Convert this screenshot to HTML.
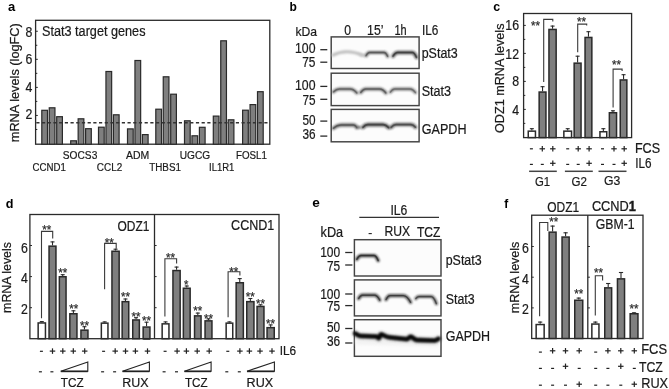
<!DOCTYPE html>
<html><head><meta charset="utf-8"><style>
html,body{margin:0;padding:0;background:#fff;width:669px;height:389px;overflow:hidden;position:relative;font-family:"Liberation Sans", sans-serif;}
</style></head><body>
<svg width="669" height="389" viewBox="0 0 669 389" style="position:absolute;left:0;top:0;will-change:transform">
<g font-family='"Liberation Sans", sans-serif'>
<defs><filter id="bl" filterUnits="userSpaceOnUse" x="0" y="0" width="669" height="389"><feGaussianBlur stdDeviation="1.5"/></filter><filter id="bl2" filterUnits="userSpaceOnUse" x="0" y="0" width="669" height="389"><feGaussianBlur stdDeviation="1.0"/></filter></defs>
<text transform="translate(8,10.8) scale(1.0,1)" x="0" y="0" font-size="13" text-anchor="start" font-weight="bold" fill="#000" stroke="#000" stroke-width="0">a</text>
<rect x="35.6" y="20.3" width="234.20000000000002" height="123.89999999999999" fill="none" stroke="#2a2a2a" stroke-width="1.3"/>
<line x1="35.6" y1="129.47" x2="37.3" y2="129.47" stroke="#2a2a2a" stroke-width="1"/>
<line x1="35.6" y1="115.44" x2="37.8" y2="115.44" stroke="#2a2a2a" stroke-width="1"/>
<line x1="35.6" y1="101.41" x2="37.3" y2="101.41" stroke="#2a2a2a" stroke-width="1"/>
<line x1="35.6" y1="87.38" x2="37.8" y2="87.38" stroke="#2a2a2a" stroke-width="1"/>
<line x1="35.6" y1="73.35000000000001" x2="37.3" y2="73.35000000000001" stroke="#2a2a2a" stroke-width="1"/>
<line x1="35.6" y1="59.32000000000001" x2="37.8" y2="59.32000000000001" stroke="#2a2a2a" stroke-width="1"/>
<line x1="35.6" y1="45.290000000000006" x2="37.3" y2="45.290000000000006" stroke="#2a2a2a" stroke-width="1"/>
<line x1="35.6" y1="31.260000000000005" x2="37.8" y2="31.260000000000005" stroke="#2a2a2a" stroke-width="1"/>
<text transform="translate(32.3,36.7) scale(0.88,1)" x="0" y="0" font-size="13.98" text-anchor="end" font-weight="normal" fill="#1a1a1a" stroke="#1a1a1a" stroke-width="0.22">8</text>
<text transform="translate(32.3,64.2) scale(0.88,1)" x="0" y="0" font-size="13.98" text-anchor="end" font-weight="normal" fill="#1a1a1a" stroke="#1a1a1a" stroke-width="0.22">6</text>
<text transform="translate(32.3,91.7) scale(0.88,1)" x="0" y="0" font-size="13.98" text-anchor="end" font-weight="normal" fill="#1a1a1a" stroke="#1a1a1a" stroke-width="0.22">4</text>
<text transform="translate(32.3,119.3) scale(0.88,1)" x="0" y="0" font-size="13.98" text-anchor="end" font-weight="normal" fill="#1a1a1a" stroke="#1a1a1a" stroke-width="0.22">2</text>
<text transform="translate(19.0,142.2) rotate(-90) scale(1,1.0)" x="0" y="0" font-size="11.9" fill="#1a1a1a" stroke="#1a1a1a" stroke-width="0.22" textLength="119" lengthAdjust="spacingAndGlyphs">mRNA levels (logFC)</text>
<text transform="translate(42,35.8) scale(0.88,1)" x="0" y="0" font-size="14.43" text-anchor="start" font-weight="normal" fill="#1a1a1a" stroke="#1a1a1a" stroke-width="0.22" textLength="117.61" lengthAdjust="spacingAndGlyphs">Stat3 target genes</text>
<rect x="41.800000000000004" y="110.3" width="5.699999999999996" height="33.89999999999999" fill="#7f7f7f" stroke="#2a2a2a" stroke-width="1.2"/>
<rect x="49.25000000000001" y="107.8" width="5.699999999999996" height="36.39999999999999" fill="#7f7f7f" stroke="#2a2a2a" stroke-width="1.2"/>
<rect x="56.7" y="116.69999999999999" width="5.699999999999996" height="27.5" fill="#7f7f7f" stroke="#2a2a2a" stroke-width="1.2"/>
<rect x="70.69999999999999" y="140.79999999999998" width="5.700000000000017" height="3.4000000000000057" fill="#7f7f7f" stroke="#2a2a2a" stroke-width="1.2"/>
<rect x="78.14999999999999" y="118.8" width="5.700000000000017" height="25.39999999999999" fill="#7f7f7f" stroke="#2a2a2a" stroke-width="1.2"/>
<rect x="85.6" y="128.7" width="5.700000000000017" height="15.5" fill="#7f7f7f" stroke="#2a2a2a" stroke-width="1.2"/>
<rect x="98.5" y="127.19999999999999" width="5.700000000000017" height="17.0" fill="#7f7f7f" stroke="#2a2a2a" stroke-width="1.2"/>
<rect x="105.95" y="71.5" width="5.700000000000017" height="72.69999999999999" fill="#7f7f7f" stroke="#2a2a2a" stroke-width="1.2"/>
<rect x="113.4" y="114.8" width="5.700000000000017" height="29.39999999999999" fill="#7f7f7f" stroke="#2a2a2a" stroke-width="1.2"/>
<rect x="127.5" y="128.9" width="5.700000000000017" height="15.299999999999983" fill="#7f7f7f" stroke="#2a2a2a" stroke-width="1.2"/>
<rect x="134.95" y="60.5" width="5.700000000000017" height="83.69999999999999" fill="#7f7f7f" stroke="#2a2a2a" stroke-width="1.2"/>
<rect x="142.4" y="134.6" width="5.700000000000017" height="9.599999999999994" fill="#7f7f7f" stroke="#2a2a2a" stroke-width="1.2"/>
<rect x="155.79999999999998" y="109.19999999999999" width="5.700000000000017" height="35.0" fill="#7f7f7f" stroke="#2a2a2a" stroke-width="1.2"/>
<rect x="163.24999999999997" y="76.8" width="5.700000000000017" height="67.39999999999999" fill="#7f7f7f" stroke="#2a2a2a" stroke-width="1.2"/>
<rect x="170.7" y="94.19999999999999" width="5.700000000000017" height="50.0" fill="#7f7f7f" stroke="#2a2a2a" stroke-width="1.2"/>
<rect x="184.5" y="120.8" width="5.700000000000017" height="23.39999999999999" fill="#7f7f7f" stroke="#2a2a2a" stroke-width="1.2"/>
<rect x="191.95" y="135.79999999999998" width="5.700000000000017" height="8.400000000000006" fill="#7f7f7f" stroke="#2a2a2a" stroke-width="1.2"/>
<rect x="199.4" y="127.3" width="5.700000000000017" height="16.89999999999999" fill="#7f7f7f" stroke="#2a2a2a" stroke-width="1.2"/>
<rect x="213.29999999999998" y="116.1" width="5.700000000000017" height="28.099999999999994" fill="#7f7f7f" stroke="#2a2a2a" stroke-width="1.2"/>
<rect x="220.74999999999997" y="40.800000000000004" width="5.700000000000017" height="103.39999999999998" fill="#7f7f7f" stroke="#2a2a2a" stroke-width="1.2"/>
<rect x="228.2" y="119.8" width="5.700000000000017" height="24.39999999999999" fill="#7f7f7f" stroke="#2a2a2a" stroke-width="1.2"/>
<rect x="242.6" y="110.19999999999999" width="5.700000000000017" height="34.0" fill="#7f7f7f" stroke="#2a2a2a" stroke-width="1.2"/>
<rect x="250.04999999999998" y="104.6" width="5.699999999999989" height="39.599999999999994" fill="#7f7f7f" stroke="#2a2a2a" stroke-width="1.2"/>
<rect x="257.5" y="91.69999999999999" width="5.699999999999932" height="52.5" fill="#7f7f7f" stroke="#2a2a2a" stroke-width="1.2"/>
<line x1="36.3" y1="122.8" x2="269.2" y2="122.8" stroke="#333" stroke-width="1.4" stroke-dasharray="3.2 2.5"/>
<text transform="translate(32.6,171) scale(0.88,1)" x="0" y="0" font-size="11.7" text-anchor="start" font-weight="normal" fill="#1a1a1a" stroke="#1a1a1a" stroke-width="0.22" textLength="37.95" lengthAdjust="spacingAndGlyphs">CCND1</text>
<text transform="translate(62.8,158.7) scale(0.88,1)" x="0" y="0" font-size="11.7" text-anchor="start" font-weight="normal" fill="#1a1a1a" stroke="#1a1a1a" stroke-width="0.22" textLength="39.2" lengthAdjust="spacingAndGlyphs">SOCS3</text>
<text transform="translate(96.8,171) scale(0.88,1)" x="0" y="0" font-size="11.7" text-anchor="start" font-weight="normal" fill="#1a1a1a" stroke="#1a1a1a" stroke-width="0.22" textLength="28.86" lengthAdjust="spacingAndGlyphs">CCL2</text>
<text transform="translate(126,158.7) scale(0.88,1)" x="0" y="0" font-size="11.7" text-anchor="start" font-weight="normal" fill="#1a1a1a" stroke="#1a1a1a" stroke-width="0.22" textLength="26.36" lengthAdjust="spacingAndGlyphs">ADM</text>
<text transform="translate(149.2,171) scale(0.88,1)" x="0" y="0" font-size="11.7" text-anchor="start" font-weight="normal" fill="#1a1a1a" stroke="#1a1a1a" stroke-width="0.22" textLength="36.14" lengthAdjust="spacingAndGlyphs">THBS1</text>
<text transform="translate(179.8,158.7) scale(0.88,1)" x="0" y="0" font-size="11.7" text-anchor="start" font-weight="normal" fill="#1a1a1a" stroke="#1a1a1a" stroke-width="0.22" textLength="34.55" lengthAdjust="spacingAndGlyphs">UGCG</text>
<text transform="translate(209,171) scale(0.88,1)" x="0" y="0" font-size="11.7" text-anchor="start" font-weight="normal" fill="#1a1a1a" stroke="#1a1a1a" stroke-width="0.22" textLength="28.86" lengthAdjust="spacingAndGlyphs">IL1R1</text>
<text transform="translate(236,158.7) scale(0.88,1)" x="0" y="0" font-size="11.7" text-anchor="start" font-weight="normal" fill="#1a1a1a" stroke="#1a1a1a" stroke-width="0.22" textLength="35.23" lengthAdjust="spacingAndGlyphs">FOSL1</text>
<text transform="translate(289.6,10.6) scale(1.0,1)" x="0" y="0" font-size="12" text-anchor="start" font-weight="bold" fill="#000" stroke="#000" stroke-width="0">b</text>
<text transform="translate(295.4,36) scale(0.88,1)" x="0" y="0" font-size="13.64" text-anchor="start" font-weight="normal" fill="#1a1a1a" stroke="#1a1a1a" stroke-width="0.22" textLength="24.55" lengthAdjust="spacingAndGlyphs">kDa</text>
<text transform="translate(344.2,34.7) scale(0.88,1)" x="0" y="0" font-size="13.86" text-anchor="start" font-weight="normal" fill="#1a1a1a" stroke="#1a1a1a" stroke-width="0.22">0</text>
<text transform="translate(367.1,34.7) scale(0.88,1)" x="0" y="0" font-size="13.86" text-anchor="start" font-weight="normal" fill="#1a1a1a" stroke="#1a1a1a" stroke-width="0.22" textLength="18.64" lengthAdjust="spacingAndGlyphs">15’</text>
<text transform="translate(394.4,34.7) scale(0.88,1)" x="0" y="0" font-size="13.86" text-anchor="start" font-weight="normal" fill="#1a1a1a" stroke="#1a1a1a" stroke-width="0.22" textLength="13.86" lengthAdjust="spacingAndGlyphs">1h</text>
<text transform="translate(422,34.7) scale(0.88,1)" x="0" y="0" font-size="13.86" text-anchor="start" font-weight="normal" fill="#1a1a1a" stroke="#1a1a1a" stroke-width="0.22" textLength="18.64" lengthAdjust="spacingAndGlyphs">IL6</text>
<rect x="331.2" y="36.9" width="87.90000000000003" height="31.6" fill="#fcfcfc" stroke="#444" stroke-width="1.45"/>
<rect x="331.2" y="73.2" width="87.90000000000003" height="32.39999999999999" fill="#fcfcfc" stroke="#444" stroke-width="1.45"/>
<rect x="331.2" y="109.4" width="87.90000000000003" height="32.400000000000006" fill="#fcfcfc" stroke="#444" stroke-width="1.45"/>
<text transform="translate(295,53) scale(0.88,1)" x="0" y="0" font-size="13.86" text-anchor="start" font-weight="normal" fill="#1a1a1a" stroke="#1a1a1a" stroke-width="0.22" textLength="23.3" lengthAdjust="spacingAndGlyphs">100</text>
<line x1="320.3" y1="49.7" x2="327.3" y2="49.7" stroke="#2a2a2a" stroke-width="1.3"/>
<text transform="translate(302.2,67.4) scale(0.88,1)" x="0" y="0" font-size="13.86" text-anchor="start" font-weight="normal" fill="#1a1a1a" stroke="#1a1a1a" stroke-width="0.22" textLength="15.11" lengthAdjust="spacingAndGlyphs">75</text>
<line x1="320.3" y1="62.2" x2="327.3" y2="62.2" stroke="#2a2a2a" stroke-width="1.3"/>
<text transform="translate(295,90.2) scale(0.88,1)" x="0" y="0" font-size="13.86" text-anchor="start" font-weight="normal" fill="#1a1a1a" stroke="#1a1a1a" stroke-width="0.22" textLength="23.3" lengthAdjust="spacingAndGlyphs">100</text>
<line x1="320.3" y1="86.4" x2="327.3" y2="86.4" stroke="#2a2a2a" stroke-width="1.3"/>
<text transform="translate(302.4,104.7) scale(0.88,1)" x="0" y="0" font-size="13.86" text-anchor="start" font-weight="normal" fill="#1a1a1a" stroke="#1a1a1a" stroke-width="0.22" textLength="14.89" lengthAdjust="spacingAndGlyphs">75</text>
<line x1="320.3" y1="99.3" x2="327.3" y2="99.3" stroke="#2a2a2a" stroke-width="1.3"/>
<text transform="translate(302.4,125) scale(0.88,1)" x="0" y="0" font-size="13.86" text-anchor="start" font-weight="normal" fill="#1a1a1a" stroke="#1a1a1a" stroke-width="0.22" textLength="14.89" lengthAdjust="spacingAndGlyphs">50</text>
<line x1="320.3" y1="121.1" x2="327.3" y2="121.1" stroke="#2a2a2a" stroke-width="1.3"/>
<text transform="translate(302.4,138.8) scale(0.88,1)" x="0" y="0" font-size="13.86" text-anchor="start" font-weight="normal" fill="#1a1a1a" stroke="#1a1a1a" stroke-width="0.22" textLength="14.89" lengthAdjust="spacingAndGlyphs">36</text>
<line x1="320.3" y1="136.1" x2="327.3" y2="136.1" stroke="#2a2a2a" stroke-width="1.3"/>
<text transform="translate(421.7,58.1) scale(0.88,1)" x="0" y="0" font-size="14.09" text-anchor="start" font-weight="normal" fill="#1a1a1a" stroke="#1a1a1a" stroke-width="0.22" textLength="40.91" lengthAdjust="spacingAndGlyphs">pStat3</text>
<text transform="translate(421.7,95.8) scale(0.88,1)" x="0" y="0" font-size="14.09" text-anchor="start" font-weight="normal" fill="#1a1a1a" stroke="#1a1a1a" stroke-width="0.22" textLength="33.3" lengthAdjust="spacingAndGlyphs">Stat3</text>
<text transform="translate(421.7,133.9) scale(0.88,1)" x="0" y="0" font-size="14.09" text-anchor="start" font-weight="normal" fill="#1a1a1a" stroke="#1a1a1a" stroke-width="0.22" textLength="50.91" lengthAdjust="spacingAndGlyphs">GAPDH</text>
<path d="M333,55.1 Q346,48.3 363,55.3" stroke="#bdbdbd" stroke-width="3.0" fill="none" filter="url(#bl2)" stroke-linecap="round"/>
<path d="M360,55 L362.8,55.2" stroke="#c8c8c8" stroke-width="2" fill="none" filter="url(#bl2)" stroke-linecap="round"/>
<path d="M366,55.8 C367.05,53.82 367.925,52.5 369.5,52.5 L384.2,52.5 C385.775,52.5 386.65,54.06 387.7,56.4" stroke="#303030" stroke-width="2.9700000000000006" fill="none" filter="url(#bl2)" stroke-linecap="round" opacity="0.72"/>
<path d="M366,55.8 C367.05,53.82 367.925,52.5 369.5,52.5 L384.2,52.5 C385.775,52.5 386.65,54.06 387.7,56.4" stroke="#303030" stroke-width="1.35" fill="none" stroke-linecap="round" opacity="0.45"/>
<path d="M393,56.2 C394.38,53.980000000000004 395.53000000000003,52.5 397.6,52.5 L412.3,52.5 C414.19,52.5 415.24,54.46 416.5,57.4" stroke="#151515" stroke-width="3.4100000000000006" fill="none" filter="url(#bl2)" stroke-linecap="round" opacity="0.72"/>
<path d="M393,56.2 C394.38,53.980000000000004 395.53000000000003,52.5 397.6,52.5 L412.3,52.5 C414.19,52.5 415.24,54.46 416.5,57.4" stroke="#151515" stroke-width="1.55" fill="none" stroke-linecap="round" opacity="0.45"/>
<path d="M333.4,91.9 C335.2,90.16 336.7,89 339.4,89 L350.2,89 C353.215,89 354.89,90.6 356.9,93" stroke="#3a3a3a" stroke-width="2.9700000000000006" fill="none" filter="url(#bl2)" stroke-linecap="round" opacity="0.72"/>
<path d="M333.4,91.9 C335.2,90.16 336.7,89 339.4,89 L350.2,89 C353.215,89 354.89,90.6 356.9,93" stroke="#3a3a3a" stroke-width="1.35" fill="none" stroke-linecap="round" opacity="0.45"/>
<path d="M360.7,92.5 C362.2,90.4 363.45,89 365.7,89 L379.8,89 C382.545,89 384.07,90.6 385.9,93" stroke="#333" stroke-width="3.08" fill="none" filter="url(#bl2)" stroke-linecap="round" opacity="0.72"/>
<path d="M360.7,92.5 C362.2,90.4 363.45,89 365.7,89 L379.8,89 C382.545,89 384.07,90.6 385.9,93" stroke="#333" stroke-width="1.4" fill="none" stroke-linecap="round" opacity="0.45"/>
<path d="M390.3,92.2 C391.59000000000003,90.28 392.665,89 394.6,89 L410.1,89 C412.53000000000003,89 413.88,90.48 415.5,92.7" stroke="#454545" stroke-width="2.8600000000000003" fill="none" filter="url(#bl2)" stroke-linecap="round" opacity="0.72"/>
<path d="M390.3,92.2 C391.59000000000003,90.28 392.665,89 394.6,89 L410.1,89 C412.53000000000003,89 413.88,90.48 415.5,92.7" stroke="#454545" stroke-width="1.3" fill="none" stroke-linecap="round" opacity="0.45"/>
<path d="M333.4,128.2 C335.62,126.28 337.46999999999997,125 340.8,125 L353.6,125 C355.085,125 355.90999999999997,126.03999999999999 356.9,127.6" stroke="#2e2e2e" stroke-width="3.3000000000000003" fill="none" filter="url(#bl2)" stroke-linecap="round" opacity="0.72"/>
<path d="M333.4,128.2 C335.62,126.28 337.46999999999997,125 340.8,125 L353.6,125 C355.085,125 355.90999999999997,126.03999999999999 356.9,127.6" stroke="#2e2e2e" stroke-width="1.5" fill="none" stroke-linecap="round" opacity="0.45"/>
<path d="M357.8,127.2 L360,127.4" stroke="#666" stroke-width="2.4" fill="none" filter="url(#bl2)" stroke-linecap="round"/>
<path d="M363,127.3 C364.40999999999997,125.67999999999999 365.585,124.6 367.7,124.6 L383.2,124.6 C385.585,124.6 386.90999999999997,125.75999999999999 388.5,127.5" stroke="#1a1a1a" stroke-width="3.74" fill="none" filter="url(#bl2)" stroke-linecap="round" opacity="0.72"/>
<path d="M363,127.3 C364.40999999999997,125.67999999999999 365.585,124.6 367.7,124.6 L383.2,124.6 C385.585,124.6 386.90999999999997,125.75999999999999 388.5,127.5" stroke="#1a1a1a" stroke-width="1.7" fill="none" stroke-linecap="round" opacity="0.45"/>
<path d="M391.2,127.3 C392.64,125.67999999999999 393.84,124.6 396,124.6 L410.8,124.6 C412.915,124.6 414.09000000000003,125.64 415.5,127.2" stroke="#262626" stroke-width="3.5200000000000005" fill="none" filter="url(#bl2)" stroke-linecap="round" opacity="0.72"/>
<path d="M391.2,127.3 C392.64,125.67999999999999 393.84,124.6 396,124.6 L410.8,124.6 C412.915,124.6 414.09000000000003,125.64 415.5,127.2" stroke="#262626" stroke-width="1.6" fill="none" stroke-linecap="round" opacity="0.45"/>
<text transform="translate(493.2,10.6) scale(1.0,1)" x="0" y="0" font-size="12.4" text-anchor="start" font-weight="bold" fill="#000" stroke="#000" stroke-width="0">c</text>
<rect x="523.6" y="13.5" width="108.0" height="124.1" fill="none" stroke="#2a2a2a" stroke-width="1.3"/>
<line x1="523.6" y1="123.4" x2="525.3" y2="123.4" stroke="#2a2a2a" stroke-width="1"/>
<line x1="523.6" y1="109.4" x2="525.8" y2="109.4" stroke="#2a2a2a" stroke-width="1"/>
<line x1="523.6" y1="95.4" x2="525.3" y2="95.4" stroke="#2a2a2a" stroke-width="1"/>
<line x1="523.6" y1="81.4" x2="525.8" y2="81.4" stroke="#2a2a2a" stroke-width="1"/>
<line x1="523.6" y1="67.4" x2="525.3" y2="67.4" stroke="#2a2a2a" stroke-width="1"/>
<line x1="523.6" y1="53.400000000000006" x2="525.8" y2="53.400000000000006" stroke="#2a2a2a" stroke-width="1"/>
<line x1="523.6" y1="39.400000000000006" x2="525.3" y2="39.400000000000006" stroke="#2a2a2a" stroke-width="1"/>
<line x1="523.6" y1="25.400000000000006" x2="525.8" y2="25.400000000000006" stroke="#2a2a2a" stroke-width="1"/>
<text transform="translate(519,29.8) scale(0.88,1)" x="0" y="0" font-size="13.98" text-anchor="end" font-weight="normal" fill="#1a1a1a" stroke="#1a1a1a" stroke-width="0.22">16</text>
<text transform="translate(519,58.6) scale(0.88,1)" x="0" y="0" font-size="13.98" text-anchor="end" font-weight="normal" fill="#1a1a1a" stroke="#1a1a1a" stroke-width="0.22">12</text>
<text transform="translate(519,86.2) scale(0.88,1)" x="0" y="0" font-size="13.98" text-anchor="end" font-weight="normal" fill="#1a1a1a" stroke="#1a1a1a" stroke-width="0.22">8</text>
<text transform="translate(519,115) scale(0.88,1)" x="0" y="0" font-size="13.98" text-anchor="end" font-weight="normal" fill="#1a1a1a" stroke="#1a1a1a" stroke-width="0.22">4</text>
<text transform="translate(504.4,133) rotate(-90) scale(1,1.0)" x="0" y="0" font-size="12.3" fill="#1a1a1a" stroke="#1a1a1a" stroke-width="0.22" textLength="109.5" lengthAdjust="spacingAndGlyphs">ODZ1 mRNA levels</text>
<line x1="531.85" y1="130.4" x2="531.85" y2="128.2" stroke="#2a2a2a" stroke-width="1.1"/>
<line x1="529.85" y1="128.7" x2="533.85" y2="128.7" stroke="#2a2a2a" stroke-width="1.1"/>
<rect x="528.25" y="131.15" width="7.2000000000000455" height="6.449999999999989" fill="#fff" stroke="#2a2a2a" stroke-width="1.5"/>
<line x1="542.55" y1="91.3" x2="542.55" y2="86.2" stroke="#2a2a2a" stroke-width="1.1"/>
<line x1="540.55" y1="86.7" x2="544.55" y2="86.7" stroke="#2a2a2a" stroke-width="1.1"/>
<rect x="539.15" y="92.05" width="6.800000000000068" height="45.55" fill="#7f7f7f" stroke="#2a2a2a" stroke-width="1.5"/>
<line x1="552.55" y1="28.7" x2="552.55" y2="25.6" stroke="#2a2a2a" stroke-width="1.1"/>
<line x1="550.55" y1="26.1" x2="554.55" y2="26.1" stroke="#2a2a2a" stroke-width="1.1"/>
<rect x="548.95" y="29.45" width="7.199999999999932" height="108.14999999999999" fill="#7f7f7f" stroke="#2a2a2a" stroke-width="1.5"/>
<line x1="567.7" y1="130.4" x2="567.7" y2="128.2" stroke="#2a2a2a" stroke-width="1.1"/>
<line x1="565.7" y1="128.7" x2="569.7" y2="128.7" stroke="#2a2a2a" stroke-width="1.1"/>
<rect x="563.85" y="131.15" width="7.699999999999932" height="6.449999999999989" fill="#fff" stroke="#2a2a2a" stroke-width="1.5"/>
<line x1="577.5999999999999" y1="62.4" x2="577.5999999999999" y2="55.7" stroke="#2a2a2a" stroke-width="1.1"/>
<line x1="575.5999999999999" y1="56.2" x2="579.5999999999999" y2="56.2" stroke="#2a2a2a" stroke-width="1.1"/>
<rect x="574.15" y="63.15" width="6.899999999999977" height="74.44999999999999" fill="#7f7f7f" stroke="#2a2a2a" stroke-width="1.5"/>
<line x1="588.45" y1="36.7" x2="588.45" y2="31.2" stroke="#2a2a2a" stroke-width="1.1"/>
<line x1="586.45" y1="31.7" x2="590.45" y2="31.7" stroke="#2a2a2a" stroke-width="1.1"/>
<rect x="585.05" y="37.45" width="6.800000000000068" height="100.14999999999999" fill="#7f7f7f" stroke="#2a2a2a" stroke-width="1.5"/>
<line x1="603.35" y1="131" x2="603.35" y2="128.2" stroke="#2a2a2a" stroke-width="1.1"/>
<line x1="601.35" y1="128.7" x2="605.35" y2="128.7" stroke="#2a2a2a" stroke-width="1.1"/>
<rect x="599.95" y="131.75" width="6.7999999999999545" height="5.849999999999994" fill="#fff" stroke="#2a2a2a" stroke-width="1.5"/>
<line x1="612.95" y1="112" x2="612.95" y2="110.3" stroke="#2a2a2a" stroke-width="1.1"/>
<line x1="610.95" y1="110.8" x2="614.95" y2="110.8" stroke="#2a2a2a" stroke-width="1.1"/>
<rect x="609.35" y="112.75" width="7.199999999999932" height="24.849999999999994" fill="#7f7f7f" stroke="#2a2a2a" stroke-width="1.5"/>
<line x1="623.55" y1="79.2" x2="623.55" y2="74.2" stroke="#2a2a2a" stroke-width="1.1"/>
<line x1="621.55" y1="74.7" x2="625.55" y2="74.7" stroke="#2a2a2a" stroke-width="1.1"/>
<rect x="620.25" y="79.95" width="6.600000000000023" height="57.64999999999999" fill="#7f7f7f" stroke="#2a2a2a" stroke-width="1.5"/>
<path d="M543.7,81.9 V19.4 H552.8 V21.5" stroke="#3a3a3a" stroke-width="1.1" fill="none"/>
<path d="M577.7,52.2 V24.1 H586.7 V25.6" stroke="#3a3a3a" stroke-width="1.1" fill="none"/>
<path d="M613.1,107.6 V69.1 H622.1 V71" stroke="#3a3a3a" stroke-width="1.1" fill="none"/>
<text transform="translate(535.5,30.1) scale(0.88,1)" x="0" y="0" font-size="13.07" text-anchor="middle" font-weight="normal" fill="#2a2a2a" stroke="#2a2a2a" stroke-width="0.22" textLength="10.23" lengthAdjust="spacingAndGlyphs">**</text>
<text transform="translate(581.4,26.3) scale(0.88,1)" x="0" y="0" font-size="13.07" text-anchor="middle" font-weight="normal" fill="#2a2a2a" stroke="#2a2a2a" stroke-width="0.22" textLength="10.23" lengthAdjust="spacingAndGlyphs">**</text>
<text transform="translate(616.6,68.9) scale(0.88,1)" x="0" y="0" font-size="13.07" text-anchor="middle" font-weight="normal" fill="#2a2a2a" stroke="#2a2a2a" stroke-width="0.22" textLength="10.23" lengthAdjust="spacingAndGlyphs">**</text>
<line x1="529.9" y1="148.8" x2="532.9" y2="148.8" stroke="#222" stroke-width="1.2"/>
<line x1="539.55" y1="148.8" x2="545.05" y2="148.8" stroke="#222" stroke-width="1.2"/>
<line x1="542.3" y1="146.05" x2="542.3" y2="151.55" stroke="#222" stroke-width="1.2"/>
<line x1="550.05" y1="148.8" x2="555.55" y2="148.8" stroke="#222" stroke-width="1.2"/>
<line x1="552.8" y1="146.05" x2="552.8" y2="151.55" stroke="#222" stroke-width="1.2"/>
<line x1="566.2" y1="148.8" x2="569.2" y2="148.8" stroke="#222" stroke-width="1.2"/>
<line x1="575.45" y1="148.8" x2="580.95" y2="148.8" stroke="#222" stroke-width="1.2"/>
<line x1="578.2" y1="146.05" x2="578.2" y2="151.55" stroke="#222" stroke-width="1.2"/>
<line x1="586.35" y1="148.8" x2="591.85" y2="148.8" stroke="#222" stroke-width="1.2"/>
<line x1="589.1" y1="146.05" x2="589.1" y2="151.55" stroke="#222" stroke-width="1.2"/>
<line x1="601.0" y1="148.8" x2="604.0" y2="148.8" stroke="#222" stroke-width="1.2"/>
<line x1="611.25" y1="148.8" x2="616.75" y2="148.8" stroke="#222" stroke-width="1.2"/>
<line x1="614" y1="146.05" x2="614" y2="151.55" stroke="#222" stroke-width="1.2"/>
<line x1="621.45" y1="148.8" x2="626.95" y2="148.8" stroke="#222" stroke-width="1.2"/>
<line x1="624.2" y1="146.05" x2="624.2" y2="151.55" stroke="#222" stroke-width="1.2"/>
<line x1="529.9" y1="164.4" x2="532.9" y2="164.4" stroke="#222" stroke-width="1.2"/>
<line x1="540.8" y1="164.4" x2="543.8" y2="164.4" stroke="#222" stroke-width="1.2"/>
<line x1="550.05" y1="163.3" x2="555.55" y2="163.3" stroke="#222" stroke-width="1.2"/>
<line x1="552.8" y1="160.55" x2="552.8" y2="166.05" stroke="#222" stroke-width="1.2"/>
<line x1="566.2" y1="164.4" x2="569.2" y2="164.4" stroke="#222" stroke-width="1.2"/>
<line x1="576.7" y1="164.4" x2="579.7" y2="164.4" stroke="#222" stroke-width="1.2"/>
<line x1="586.35" y1="163.3" x2="591.85" y2="163.3" stroke="#222" stroke-width="1.2"/>
<line x1="589.1" y1="160.55" x2="589.1" y2="166.05" stroke="#222" stroke-width="1.2"/>
<line x1="601.0" y1="164.4" x2="604.0" y2="164.4" stroke="#222" stroke-width="1.2"/>
<line x1="612.5" y1="164.4" x2="615.5" y2="164.4" stroke="#222" stroke-width="1.2"/>
<line x1="621.45" y1="163.3" x2="626.95" y2="163.3" stroke="#222" stroke-width="1.2"/>
<line x1="624.2" y1="160.55" x2="624.2" y2="166.05" stroke="#222" stroke-width="1.2"/>
<text transform="translate(634.9,152.7) scale(0.88,1)" x="0" y="0" font-size="13.98" text-anchor="start" font-weight="normal" fill="#1a1a1a" stroke="#1a1a1a" stroke-width="0.22" textLength="28.52" lengthAdjust="spacingAndGlyphs">FCS</text>
<text transform="translate(635.2,168.2) scale(0.88,1)" x="0" y="0" font-size="13.98" text-anchor="start" font-weight="normal" fill="#1a1a1a" stroke="#1a1a1a" stroke-width="0.22" textLength="18.52" lengthAdjust="spacingAndGlyphs">IL6</text>
<line x1="529.1" y1="171.3" x2="556.8" y2="171.3" stroke="#444" stroke-width="1.5"/>
<line x1="564.9" y1="171.3" x2="592.8" y2="171.3" stroke="#444" stroke-width="1.5"/>
<line x1="598.5" y1="171.3" x2="626.5" y2="171.3" stroke="#444" stroke-width="1.5"/>
<text transform="translate(534.9,185.7) scale(0.88,1)" x="0" y="0" font-size="13.64" text-anchor="start" font-weight="normal" fill="#1a1a1a" stroke="#1a1a1a" stroke-width="0.22" textLength="17.16" lengthAdjust="spacingAndGlyphs">G1</text>
<text transform="translate(571.6,185.7) scale(0.88,1)" x="0" y="0" font-size="13.64" text-anchor="start" font-weight="normal" fill="#1a1a1a" stroke="#1a1a1a" stroke-width="0.22" textLength="17.5" lengthAdjust="spacingAndGlyphs">G2</text>
<text transform="translate(604.1,185.2) scale(0.88,1)" x="0" y="0" font-size="13.64" text-anchor="start" font-weight="normal" fill="#1a1a1a" stroke="#1a1a1a" stroke-width="0.22" textLength="18.52" lengthAdjust="spacingAndGlyphs">G3</text>
<text transform="translate(5.8,207.6) scale(1.0,1)" x="0" y="0" font-size="12.6" text-anchor="start" font-weight="bold" fill="#000" stroke="#000" stroke-width="0">d</text>
<rect x="29.9" y="214.5" width="249.1" height="124.19999999999999" fill="none" stroke="#2a2a2a" stroke-width="1.3"/>
<line x1="154.5" y1="214.5" x2="154.5" y2="338.7" stroke="#2a2a2a" stroke-width="1.3"/>
<line x1="29.9" y1="307.7" x2="32" y2="307.7" stroke="#2a2a2a" stroke-width="1"/>
<line x1="154.5" y1="307.7" x2="156.6" y2="307.7" stroke="#2a2a2a" stroke-width="1"/>
<line x1="29.9" y1="276.6" x2="32" y2="276.6" stroke="#2a2a2a" stroke-width="1"/>
<line x1="154.5" y1="276.6" x2="156.6" y2="276.6" stroke="#2a2a2a" stroke-width="1"/>
<line x1="29.9" y1="245.5" x2="32" y2="245.5" stroke="#2a2a2a" stroke-width="1"/>
<line x1="154.5" y1="245.5" x2="156.6" y2="245.5" stroke="#2a2a2a" stroke-width="1"/>
<text transform="translate(27.8,253) scale(0.88,1)" x="0" y="0" font-size="13.98" text-anchor="end" font-weight="normal" fill="#1a1a1a" stroke="#1a1a1a" stroke-width="0.22">6</text>
<text transform="translate(27.8,283.2) scale(0.88,1)" x="0" y="0" font-size="13.98" text-anchor="end" font-weight="normal" fill="#1a1a1a" stroke="#1a1a1a" stroke-width="0.22">4</text>
<text transform="translate(27.8,314.2) scale(0.88,1)" x="0" y="0" font-size="13.98" text-anchor="end" font-weight="normal" fill="#1a1a1a" stroke="#1a1a1a" stroke-width="0.22">2</text>
<text transform="translate(10.9,312.9) rotate(-90) scale(1,1.0)" x="0" y="0" font-size="12.25" fill="#1a1a1a" stroke="#1a1a1a" stroke-width="0.22" textLength="70.8" lengthAdjust="spacingAndGlyphs">mRNA levels</text>
<text transform="translate(117.5,231.2) scale(0.88,1)" x="0" y="0" font-size="14.09" text-anchor="start" font-weight="normal" fill="#1a1a1a" stroke="#1a1a1a" stroke-width="0.22" textLength="36.25" lengthAdjust="spacingAndGlyphs">ODZ1</text>
<text transform="translate(231.1,229.8) scale(0.88,1)" x="0" y="0" font-size="14.09" text-anchor="start" font-weight="normal" fill="#1a1a1a" stroke="#1a1a1a" stroke-width="0.22" textLength="49.09" lengthAdjust="spacingAndGlyphs">CCND1</text>
<line x1="41.8" y1="322.2" x2="41.8" y2="321.1" stroke="#2a2a2a" stroke-width="1.1"/>
<line x1="39.8" y1="321.6" x2="43.8" y2="321.6" stroke="#2a2a2a" stroke-width="1.1"/>
<rect x="38.15" y="322.95" width="7.300000000000004" height="15.75" fill="#fff" stroke="#2a2a2a" stroke-width="1.5"/>
<line x1="52.5" y1="245.4" x2="52.5" y2="241.4" stroke="#2a2a2a" stroke-width="1.1"/>
<line x1="50.5" y1="241.9" x2="54.5" y2="241.9" stroke="#2a2a2a" stroke-width="1.1"/>
<rect x="49.05" y="246.15" width="6.900000000000006" height="92.54999999999998" fill="#7f7f7f" stroke="#2a2a2a" stroke-width="1.5"/>
<line x1="62.7" y1="276" x2="62.7" y2="274.2" stroke="#2a2a2a" stroke-width="1.1"/>
<line x1="60.7" y1="274.7" x2="64.7" y2="274.7" stroke="#2a2a2a" stroke-width="1.1"/>
<rect x="59.35" y="276.75" width="6.699999999999996" height="61.94999999999999" fill="#7f7f7f" stroke="#2a2a2a" stroke-width="1.5"/>
<line x1="73.4" y1="313" x2="73.4" y2="310.3" stroke="#2a2a2a" stroke-width="1.1"/>
<line x1="71.4" y1="310.8" x2="75.4" y2="310.8" stroke="#2a2a2a" stroke-width="1.1"/>
<rect x="69.85" y="313.75" width="7.1000000000000085" height="24.94999999999999" fill="#7f7f7f" stroke="#2a2a2a" stroke-width="1.5"/>
<line x1="84.45" y1="329.4" x2="84.45" y2="326.2" stroke="#2a2a2a" stroke-width="1.1"/>
<line x1="82.45" y1="326.7" x2="86.45" y2="326.7" stroke="#2a2a2a" stroke-width="1.1"/>
<rect x="80.95" y="330.15" width="7.0" height="8.550000000000011" fill="#7f7f7f" stroke="#2a2a2a" stroke-width="1.5"/>
<line x1="104.65" y1="322.4" x2="104.65" y2="321.4" stroke="#2a2a2a" stroke-width="1.1"/>
<line x1="102.65" y1="321.9" x2="106.65" y2="321.9" stroke="#2a2a2a" stroke-width="1.1"/>
<rect x="101.35" y="323.15" width="6.6000000000000085" height="15.550000000000011" fill="#fff" stroke="#2a2a2a" stroke-width="1.5"/>
<line x1="115.55000000000001" y1="250.5" x2="115.55000000000001" y2="248.7" stroke="#2a2a2a" stroke-width="1.1"/>
<line x1="113.55000000000001" y1="249.2" x2="117.55000000000001" y2="249.2" stroke="#2a2a2a" stroke-width="1.1"/>
<rect x="111.95" y="251.25" width="7.200000000000003" height="87.44999999999999" fill="#7f7f7f" stroke="#2a2a2a" stroke-width="1.5"/>
<line x1="125.45" y1="300.9" x2="125.45" y2="298.5" stroke="#2a2a2a" stroke-width="1.1"/>
<line x1="123.45" y1="299.0" x2="127.45" y2="299.0" stroke="#2a2a2a" stroke-width="1.1"/>
<rect x="122.15" y="301.65" width="6.599999999999994" height="37.05000000000001" fill="#7f7f7f" stroke="#2a2a2a" stroke-width="1.5"/>
<line x1="136.05" y1="319.2" x2="136.05" y2="317.2" stroke="#2a2a2a" stroke-width="1.1"/>
<line x1="134.05" y1="317.7" x2="138.05" y2="317.7" stroke="#2a2a2a" stroke-width="1.1"/>
<rect x="132.75" y="319.95" width="6.599999999999994" height="18.75" fill="#7f7f7f" stroke="#2a2a2a" stroke-width="1.5"/>
<line x1="146.55" y1="326.3" x2="146.55" y2="321.7" stroke="#2a2a2a" stroke-width="1.1"/>
<line x1="144.55" y1="322.2" x2="148.55" y2="322.2" stroke="#2a2a2a" stroke-width="1.1"/>
<rect x="143.15" y="327.05" width="6.799999999999983" height="11.649999999999977" fill="#7f7f7f" stroke="#2a2a2a" stroke-width="1.5"/>
<line x1="165.55" y1="323.1" x2="165.55" y2="321.4" stroke="#2a2a2a" stroke-width="1.1"/>
<line x1="163.55" y1="321.9" x2="167.55" y2="321.9" stroke="#2a2a2a" stroke-width="1.1"/>
<rect x="162.15" y="323.85" width="6.799999999999983" height="14.849999999999966" fill="#fff" stroke="#2a2a2a" stroke-width="1.5"/>
<line x1="176.55" y1="269.8" x2="176.55" y2="266.6" stroke="#2a2a2a" stroke-width="1.1"/>
<line x1="174.55" y1="267.1" x2="178.55" y2="267.1" stroke="#2a2a2a" stroke-width="1.1"/>
<rect x="172.95" y="270.55" width="7.200000000000017" height="68.14999999999998" fill="#7f7f7f" stroke="#2a2a2a" stroke-width="1.5"/>
<line x1="186.75" y1="287.5" x2="186.75" y2="285.5" stroke="#2a2a2a" stroke-width="1.1"/>
<line x1="184.75" y1="286.0" x2="188.75" y2="286.0" stroke="#2a2a2a" stroke-width="1.1"/>
<rect x="183.35" y="288.25" width="6.800000000000011" height="50.44999999999999" fill="#7f7f7f" stroke="#2a2a2a" stroke-width="1.5"/>
<line x1="197.8" y1="315.1" x2="197.8" y2="312.6" stroke="#2a2a2a" stroke-width="1.1"/>
<line x1="195.8" y1="313.1" x2="199.8" y2="313.1" stroke="#2a2a2a" stroke-width="1.1"/>
<rect x="194.55" y="315.85" width="6.5" height="22.849999999999966" fill="#7f7f7f" stroke="#2a2a2a" stroke-width="1.5"/>
<line x1="208.5" y1="320.1" x2="208.5" y2="318.4" stroke="#2a2a2a" stroke-width="1.1"/>
<line x1="206.5" y1="318.9" x2="210.5" y2="318.9" stroke="#2a2a2a" stroke-width="1.1"/>
<rect x="205.05" y="320.85" width="6.899999999999977" height="17.849999999999966" fill="#7f7f7f" stroke="#2a2a2a" stroke-width="1.5"/>
<line x1="229.45" y1="322.4" x2="229.45" y2="321.4" stroke="#2a2a2a" stroke-width="1.1"/>
<line x1="227.45" y1="321.9" x2="231.45" y2="321.9" stroke="#2a2a2a" stroke-width="1.1"/>
<rect x="226.15" y="323.15" width="6.599999999999994" height="15.550000000000011" fill="#fff" stroke="#2a2a2a" stroke-width="1.5"/>
<line x1="239.75" y1="282" x2="239.75" y2="278.1" stroke="#2a2a2a" stroke-width="1.1"/>
<line x1="237.75" y1="278.6" x2="241.75" y2="278.6" stroke="#2a2a2a" stroke-width="1.1"/>
<rect x="236.15" y="282.75" width="7.199999999999989" height="55.94999999999999" fill="#7f7f7f" stroke="#2a2a2a" stroke-width="1.5"/>
<line x1="250.35" y1="300.9" x2="250.35" y2="298" stroke="#2a2a2a" stroke-width="1.1"/>
<line x1="248.35" y1="298.5" x2="252.35" y2="298.5" stroke="#2a2a2a" stroke-width="1.1"/>
<rect x="246.75" y="301.65" width="7.199999999999989" height="37.05000000000001" fill="#7f7f7f" stroke="#2a2a2a" stroke-width="1.5"/>
<line x1="260.5" y1="305.7" x2="260.5" y2="304.3" stroke="#2a2a2a" stroke-width="1.1"/>
<line x1="258.5" y1="304.8" x2="262.5" y2="304.8" stroke="#2a2a2a" stroke-width="1.1"/>
<rect x="257.05" y="306.45" width="6.899999999999977" height="32.25" fill="#7f7f7f" stroke="#2a2a2a" stroke-width="1.5"/>
<line x1="270.65" y1="326.9" x2="270.65" y2="324.4" stroke="#2a2a2a" stroke-width="1.1"/>
<line x1="268.65" y1="324.9" x2="272.65" y2="324.9" stroke="#2a2a2a" stroke-width="1.1"/>
<rect x="267.05" y="327.65" width="7.199999999999989" height="11.050000000000011" fill="#7f7f7f" stroke="#2a2a2a" stroke-width="1.5"/>
<rect x="143.2" y="338.7" width="6.800000000000011" height="0.9000000000000341" fill="#222" stroke="none" stroke-width="1"/>
<path d="M41.5,318.2 V231.4 H52.7 V238.4" stroke="#3a3a3a" stroke-width="1.1" fill="none"/>
<path d="M104.6,289.3 V243.4 H116.2 V248.7" stroke="#3a3a3a" stroke-width="1.1" fill="none"/>
<path d="M164.9,316.4 V258.8 H176.6 V263.4" stroke="#3a3a3a" stroke-width="1.1" fill="none"/>
<path d="M228.1,317.2 V271.7 H239.9 V275.6" stroke="#3a3a3a" stroke-width="1.1" fill="none"/>
<text transform="translate(46.8,234.1) scale(0.88,1)" x="0" y="0" font-size="13.07" text-anchor="middle" font-weight="normal" fill="#2a2a2a" stroke="#2a2a2a" stroke-width="0.22" textLength="10.23" lengthAdjust="spacingAndGlyphs">**</text>
<text transform="translate(62.7,277.4) scale(0.88,1)" x="0" y="0" font-size="13.07" text-anchor="middle" font-weight="normal" fill="#2a2a2a" stroke="#2a2a2a" stroke-width="0.22" textLength="10.23" lengthAdjust="spacingAndGlyphs">**</text>
<text transform="translate(73.7,313.1) scale(0.88,1)" x="0" y="0" font-size="13.07" text-anchor="middle" font-weight="normal" fill="#2a2a2a" stroke="#2a2a2a" stroke-width="0.22" textLength="10.23" lengthAdjust="spacingAndGlyphs">**</text>
<text transform="translate(84.5,329.8) scale(0.88,1)" x="0" y="0" font-size="13.07" text-anchor="middle" font-weight="normal" fill="#2a2a2a" stroke="#2a2a2a" stroke-width="0.22" textLength="10.23" lengthAdjust="spacingAndGlyphs">**</text>
<text transform="translate(109.2,246.8) scale(0.88,1)" x="0" y="0" font-size="13.07" text-anchor="middle" font-weight="normal" fill="#2a2a2a" stroke="#2a2a2a" stroke-width="0.22" textLength="10.23" lengthAdjust="spacingAndGlyphs">**</text>
<text transform="translate(125.5,300.7) scale(0.88,1)" x="0" y="0" font-size="13.07" text-anchor="middle" font-weight="normal" fill="#2a2a2a" stroke="#2a2a2a" stroke-width="0.22" textLength="10.23" lengthAdjust="spacingAndGlyphs">**</text>
<text transform="translate(136,320.5) scale(0.88,1)" x="0" y="0" font-size="13.07" text-anchor="middle" font-weight="normal" fill="#2a2a2a" stroke="#2a2a2a" stroke-width="0.22" textLength="10.23" lengthAdjust="spacingAndGlyphs">**</text>
<text transform="translate(146.6,325.1) scale(0.88,1)" x="0" y="0" font-size="13.07" text-anchor="middle" font-weight="normal" fill="#2a2a2a" stroke="#2a2a2a" stroke-width="0.22" textLength="10.23" lengthAdjust="spacingAndGlyphs">**</text>
<text transform="translate(170.5,262.3) scale(0.88,1)" x="0" y="0" font-size="13.07" text-anchor="middle" font-weight="normal" fill="#2a2a2a" stroke="#2a2a2a" stroke-width="0.22" textLength="10.23" lengthAdjust="spacingAndGlyphs">**</text>
<text transform="translate(186.3,289.1) scale(0.88,1)" x="0" y="0" font-size="13.07" text-anchor="middle" font-weight="normal" fill="#2a2a2a" stroke="#2a2a2a" stroke-width="0.22" textLength="5.0" lengthAdjust="spacingAndGlyphs">*</text>
<text transform="translate(197.8,314.6) scale(0.88,1)" x="0" y="0" font-size="13.07" text-anchor="middle" font-weight="normal" fill="#2a2a2a" stroke="#2a2a2a" stroke-width="0.22" textLength="10.23" lengthAdjust="spacingAndGlyphs">**</text>
<text transform="translate(208.5,322.8) scale(0.88,1)" x="0" y="0" font-size="13.07" text-anchor="middle" font-weight="normal" fill="#2a2a2a" stroke="#2a2a2a" stroke-width="0.22" textLength="10.23" lengthAdjust="spacingAndGlyphs">**</text>
<text transform="translate(233.8,275.5) scale(0.88,1)" x="0" y="0" font-size="13.07" text-anchor="middle" font-weight="normal" fill="#2a2a2a" stroke="#2a2a2a" stroke-width="0.22" textLength="10.23" lengthAdjust="spacingAndGlyphs">**</text>
<text transform="translate(250.3,300.6) scale(0.88,1)" x="0" y="0" font-size="13.07" text-anchor="middle" font-weight="normal" fill="#2a2a2a" stroke="#2a2a2a" stroke-width="0.22" textLength="10.23" lengthAdjust="spacingAndGlyphs">**</text>
<text transform="translate(260.5,307.6) scale(0.88,1)" x="0" y="0" font-size="13.07" text-anchor="middle" font-weight="normal" fill="#2a2a2a" stroke="#2a2a2a" stroke-width="0.22" textLength="10.23" lengthAdjust="spacingAndGlyphs">**</text>
<text transform="translate(270.6,327.6) scale(0.88,1)" x="0" y="0" font-size="13.07" text-anchor="middle" font-weight="normal" fill="#2a2a2a" stroke="#2a2a2a" stroke-width="0.22" textLength="10.23" lengthAdjust="spacingAndGlyphs">**</text>
<line x1="39.9" y1="351.3" x2="42.9" y2="351.3" stroke="#222" stroke-width="1.2"/>
<line x1="49.75" y1="351.1" x2="55.25" y2="351.1" stroke="#222" stroke-width="1.2"/>
<line x1="52.5" y1="348.35" x2="52.5" y2="353.85" stroke="#222" stroke-width="1.2"/>
<line x1="60.05" y1="351.1" x2="65.55" y2="351.1" stroke="#222" stroke-width="1.2"/>
<line x1="62.8" y1="348.35" x2="62.8" y2="353.85" stroke="#222" stroke-width="1.2"/>
<line x1="70.55" y1="351.1" x2="76.05" y2="351.1" stroke="#222" stroke-width="1.2"/>
<line x1="73.3" y1="348.35" x2="73.3" y2="353.85" stroke="#222" stroke-width="1.2"/>
<line x1="81.95" y1="351.1" x2="87.45" y2="351.1" stroke="#222" stroke-width="1.2"/>
<line x1="84.7" y1="348.35" x2="84.7" y2="353.85" stroke="#222" stroke-width="1.2"/>
<line x1="102.1" y1="351.3" x2="105.1" y2="351.3" stroke="#222" stroke-width="1.2"/>
<line x1="112.45" y1="351.1" x2="117.95" y2="351.1" stroke="#222" stroke-width="1.2"/>
<line x1="115.2" y1="348.35" x2="115.2" y2="353.85" stroke="#222" stroke-width="1.2"/>
<line x1="122.75" y1="351.1" x2="128.25" y2="351.1" stroke="#222" stroke-width="1.2"/>
<line x1="125.5" y1="348.35" x2="125.5" y2="353.85" stroke="#222" stroke-width="1.2"/>
<line x1="132.65" y1="351.1" x2="138.15" y2="351.1" stroke="#222" stroke-width="1.2"/>
<line x1="135.4" y1="348.35" x2="135.4" y2="353.85" stroke="#222" stroke-width="1.2"/>
<line x1="144.75" y1="351.1" x2="150.25" y2="351.1" stroke="#222" stroke-width="1.2"/>
<line x1="147.5" y1="348.35" x2="147.5" y2="353.85" stroke="#222" stroke-width="1.2"/>
<line x1="163.6" y1="351.3" x2="166.6" y2="351.3" stroke="#222" stroke-width="1.2"/>
<line x1="174.35" y1="351.1" x2="179.85" y2="351.1" stroke="#222" stroke-width="1.2"/>
<line x1="177.1" y1="348.35" x2="177.1" y2="353.85" stroke="#222" stroke-width="1.2"/>
<line x1="183.65" y1="351.1" x2="189.15" y2="351.1" stroke="#222" stroke-width="1.2"/>
<line x1="186.4" y1="348.35" x2="186.4" y2="353.85" stroke="#222" stroke-width="1.2"/>
<line x1="194.45" y1="351.1" x2="199.95" y2="351.1" stroke="#222" stroke-width="1.2"/>
<line x1="197.2" y1="348.35" x2="197.2" y2="353.85" stroke="#222" stroke-width="1.2"/>
<line x1="206.45" y1="351.1" x2="211.95" y2="351.1" stroke="#222" stroke-width="1.2"/>
<line x1="209.2" y1="348.35" x2="209.2" y2="353.85" stroke="#222" stroke-width="1.2"/>
<line x1="226.3" y1="351.3" x2="229.3" y2="351.3" stroke="#222" stroke-width="1.2"/>
<line x1="237.15" y1="351.1" x2="242.65" y2="351.1" stroke="#222" stroke-width="1.2"/>
<line x1="239.9" y1="348.35" x2="239.9" y2="353.85" stroke="#222" stroke-width="1.2"/>
<line x1="246.65" y1="351.1" x2="252.15" y2="351.1" stroke="#222" stroke-width="1.2"/>
<line x1="249.4" y1="348.35" x2="249.4" y2="353.85" stroke="#222" stroke-width="1.2"/>
<line x1="257.25" y1="351.1" x2="262.75" y2="351.1" stroke="#222" stroke-width="1.2"/>
<line x1="260" y1="348.35" x2="260" y2="353.85" stroke="#222" stroke-width="1.2"/>
<line x1="269.25" y1="351.1" x2="274.75" y2="351.1" stroke="#222" stroke-width="1.2"/>
<line x1="272" y1="348.35" x2="272" y2="353.85" stroke="#222" stroke-width="1.2"/>
<line x1="38.9" y1="371.8" x2="41.9" y2="371.8" stroke="#222" stroke-width="1.2"/>
<line x1="50.4" y1="371.8" x2="53.4" y2="371.8" stroke="#222" stroke-width="1.2"/>
<path d="M60.8,371.2 L87.8,361.9 V371.2 Z" stroke="#222" stroke-width="1.1" fill="none" stroke-linejoin="miter"/>
<line x1="60.8" y1="371.4" x2="87.8" y2="371.4" stroke="#222" stroke-width="1.6"/>
<text transform="translate(60.800000000000004,387.3) scale(0.88,1)" x="0" y="0" font-size="13.64" text-anchor="start" font-weight="normal" fill="#1a1a1a" stroke="#1a1a1a" stroke-width="0.22" textLength="25.91" lengthAdjust="spacingAndGlyphs">TCZ</text>
<line x1="101.1" y1="371.8" x2="104.1" y2="371.8" stroke="#222" stroke-width="1.2"/>
<line x1="113.10000000000001" y1="371.8" x2="116.10000000000001" y2="371.8" stroke="#222" stroke-width="1.2"/>
<path d="M122.5,371.2 L149.4,361.9 V371.2 Z" stroke="#222" stroke-width="1.1" fill="none" stroke-linejoin="miter"/>
<line x1="122.5" y1="371.4" x2="149.4" y2="371.4" stroke="#222" stroke-width="1.6"/>
<text transform="translate(122.3,387.3) scale(0.88,1)" x="0" y="0" font-size="13.64" text-anchor="start" font-weight="normal" fill="#1a1a1a" stroke="#1a1a1a" stroke-width="0.22" textLength="29.89" lengthAdjust="spacingAndGlyphs">RUX</text>
<line x1="162.6" y1="371.8" x2="165.6" y2="371.8" stroke="#222" stroke-width="1.2"/>
<line x1="175.0" y1="371.8" x2="178.0" y2="371.8" stroke="#222" stroke-width="1.2"/>
<path d="M184.4,371.2 L211.1,361.9 V371.2 Z" stroke="#222" stroke-width="1.1" fill="none" stroke-linejoin="miter"/>
<line x1="184.4" y1="371.4" x2="211.1" y2="371.4" stroke="#222" stroke-width="1.6"/>
<text transform="translate(185.0,387.3) scale(0.88,1)" x="0" y="0" font-size="13.64" text-anchor="start" font-weight="normal" fill="#1a1a1a" stroke="#1a1a1a" stroke-width="0.22" textLength="25.68" lengthAdjust="spacingAndGlyphs">TCZ</text>
<line x1="225.3" y1="371.8" x2="228.3" y2="371.8" stroke="#222" stroke-width="1.2"/>
<line x1="237.8" y1="371.8" x2="240.8" y2="371.8" stroke="#222" stroke-width="1.2"/>
<path d="M247,371.2 L274.4,361.9 V371.2 Z" stroke="#222" stroke-width="1.1" fill="none" stroke-linejoin="miter"/>
<line x1="247" y1="371.4" x2="274.4" y2="371.4" stroke="#222" stroke-width="1.6"/>
<text transform="translate(246.6,387.3) scale(0.88,1)" x="0" y="0" font-size="13.64" text-anchor="start" font-weight="normal" fill="#1a1a1a" stroke="#1a1a1a" stroke-width="0.22" textLength="30.23" lengthAdjust="spacingAndGlyphs">RUX</text>
<text transform="translate(279.7,354.5) scale(0.88,1)" x="0" y="0" font-size="13.18" text-anchor="start" font-weight="normal" fill="#1a1a1a" stroke="#1a1a1a" stroke-width="0.22" textLength="18.64" lengthAdjust="spacingAndGlyphs">IL6</text>
<text transform="translate(312.2,207) scale(1.0,1)" x="0" y="0" font-size="13.6" text-anchor="start" font-weight="bold" fill="#000" stroke="#000" stroke-width="0">e</text>
<text transform="translate(390.4,215.2) scale(0.88,1)" x="0" y="0" font-size="13.98" text-anchor="start" font-weight="normal" fill="#1a1a1a" stroke="#1a1a1a" stroke-width="0.22" textLength="19.2" lengthAdjust="spacingAndGlyphs">IL6</text>
<line x1="359.3" y1="217.4" x2="439" y2="217.4" stroke="#333" stroke-width="1.3"/>
<text transform="translate(320.6,236.9) scale(0.88,1)" x="0" y="0" font-size="13.98" text-anchor="start" font-weight="normal" fill="#1a1a1a" stroke="#1a1a1a" stroke-width="0.22" textLength="25.68" lengthAdjust="spacingAndGlyphs">kDa</text>
<line x1="368.6" y1="233.6" x2="371.8" y2="233.6" stroke="#222" stroke-width="1.1"/>
<text transform="translate(384.6,235.6) scale(0.88,1)" x="0" y="0" font-size="13.98" text-anchor="start" font-weight="normal" fill="#1a1a1a" stroke="#1a1a1a" stroke-width="0.22" textLength="29.09" lengthAdjust="spacingAndGlyphs">RUX</text>
<text transform="translate(417,236.5) scale(0.88,1)" x="0" y="0" font-size="13.98" text-anchor="start" font-weight="normal" fill="#1a1a1a" stroke="#1a1a1a" stroke-width="0.22" textLength="26.59" lengthAdjust="spacingAndGlyphs">TCZ</text>
<rect x="354.4" y="239.7" width="86.60000000000002" height="36.30000000000001" fill="#fcfcfc" stroke="#444" stroke-width="1.45"/>
<rect x="354.4" y="279.9" width="86.60000000000002" height="36.0" fill="#fcfcfc" stroke="#444" stroke-width="1.45"/>
<rect x="354.4" y="319.7" width="86.60000000000002" height="36.60000000000002" fill="#fcfcfc" stroke="#444" stroke-width="1.45"/>
<text transform="translate(320.2,256.8) scale(0.88,1)" x="0" y="0" font-size="13.98" text-anchor="start" font-weight="normal" fill="#1a1a1a" stroke="#1a1a1a" stroke-width="0.22" textLength="22.73" lengthAdjust="spacingAndGlyphs">100</text>
<line x1="345.2" y1="252.5" x2="352.4" y2="252.5" stroke="#2a2a2a" stroke-width="1.3"/>
<text transform="translate(327,270.9) scale(0.88,1)" x="0" y="0" font-size="13.98" text-anchor="start" font-weight="normal" fill="#1a1a1a" stroke="#1a1a1a" stroke-width="0.22" textLength="15.0" lengthAdjust="spacingAndGlyphs">75</text>
<line x1="345.2" y1="265" x2="352.4" y2="265" stroke="#2a2a2a" stroke-width="1.3"/>
<text transform="translate(320.2,298.6) scale(0.88,1)" x="0" y="0" font-size="13.98" text-anchor="start" font-weight="normal" fill="#1a1a1a" stroke="#1a1a1a" stroke-width="0.22" textLength="22.73" lengthAdjust="spacingAndGlyphs">100</text>
<line x1="345.2" y1="294" x2="352.4" y2="294" stroke="#2a2a2a" stroke-width="1.3"/>
<text transform="translate(327,310.7) scale(0.88,1)" x="0" y="0" font-size="13.98" text-anchor="start" font-weight="normal" fill="#1a1a1a" stroke="#1a1a1a" stroke-width="0.22" textLength="15.0" lengthAdjust="spacingAndGlyphs">75</text>
<line x1="345.2" y1="305.6" x2="352.4" y2="305.6" stroke="#2a2a2a" stroke-width="1.3"/>
<text transform="translate(327,332.4) scale(0.88,1)" x="0" y="0" font-size="13.98" text-anchor="start" font-weight="normal" fill="#1a1a1a" stroke="#1a1a1a" stroke-width="0.22" textLength="15.0" lengthAdjust="spacingAndGlyphs">50</text>
<line x1="345.2" y1="328.5" x2="352.4" y2="328.5" stroke="#2a2a2a" stroke-width="1.3"/>
<text transform="translate(327,346.1) scale(0.88,1)" x="0" y="0" font-size="13.98" text-anchor="start" font-weight="normal" fill="#1a1a1a" stroke="#1a1a1a" stroke-width="0.22" textLength="15.0" lengthAdjust="spacingAndGlyphs">36</text>
<line x1="345.2" y1="343" x2="352.4" y2="343" stroke="#2a2a2a" stroke-width="1.3"/>
<text transform="translate(445.7,264.9) scale(0.88,1)" x="0" y="0" font-size="13.98" text-anchor="start" font-weight="normal" fill="#1a1a1a" stroke="#1a1a1a" stroke-width="0.22" textLength="40.8" lengthAdjust="spacingAndGlyphs">pStat3</text>
<text transform="translate(445.7,303.6) scale(0.88,1)" x="0" y="0" font-size="13.98" text-anchor="start" font-weight="normal" fill="#1a1a1a" stroke="#1a1a1a" stroke-width="0.22" textLength="32.84" lengthAdjust="spacingAndGlyphs">Stat3</text>
<text transform="translate(445.7,341.2) scale(0.88,1)" x="0" y="0" font-size="13.98" text-anchor="start" font-weight="normal" fill="#1a1a1a" stroke="#1a1a1a" stroke-width="0.22" textLength="50.45" lengthAdjust="spacingAndGlyphs">GAPDH</text>
<path d="M356.8,259.3 C358.06,257.08 359.11,255.6 361,255.6 L374,255.6 C375.89,255.6 376.94,257.6 378.2,260.6" stroke="#000" stroke-width="3.3000000000000003" fill="none" filter="url(#bl2)" stroke-linecap="round" opacity="0.72"/>
<path d="M356.8,259.3 C358.06,257.08 359.11,255.6 361,255.6 L374,255.6 C375.89,255.6 376.94,257.6 378.2,260.6" stroke="#000" stroke-width="1.5" fill="none" stroke-linecap="round" opacity="0.45"/>
<path d="M358.6,298.6 C359.71000000000004,296.56 360.635,295.2 362.3,295.2 L374.6,295.2 C376.94,295.2 378.24,297.2 379.8,300.2" stroke="#0a0a0a" stroke-width="3.19" fill="none" filter="url(#bl2)" stroke-linecap="round" opacity="0.72"/>
<path d="M358.6,298.6 C359.71000000000004,296.56 360.635,295.2 362.3,295.2 L374.6,295.2 C376.94,295.2 378.24,297.2 379.8,300.2" stroke="#0a0a0a" stroke-width="1.45" fill="none" stroke-linecap="round" opacity="0.45"/>
<path d="M386,299.6 C387.2,297.20000000000005 388.2,295.6 390,295.6 L403.4,295.6 C406.64,295.6 408.44,298.28000000000003 410.6,302.3" stroke="#0a0a0a" stroke-width="3.19" fill="none" filter="url(#bl2)" stroke-linecap="round" opacity="0.72"/>
<path d="M386,299.6 C387.2,297.20000000000005 388.2,295.6 390,295.6 L403.4,295.6 C406.64,295.6 408.44,298.28000000000003 410.6,302.3" stroke="#0a0a0a" stroke-width="1.45" fill="none" stroke-linecap="round" opacity="0.45"/>
<path d="M415.8,298.6 C416.73,297.40000000000003 417.505,296.6 418.9,296.6 L431.2,296.6 C433.53999999999996,296.6 434.84,299.44 436.4,303.7" stroke="#151515" stroke-width="2.9700000000000006" fill="none" filter="url(#bl2)" stroke-linecap="round" opacity="0.72"/>
<path d="M415.8,298.6 C416.73,297.40000000000003 417.505,296.6 418.9,296.6 L431.2,296.6 C433.53999999999996,296.6 434.84,299.44 436.4,303.7" stroke="#151515" stroke-width="1.35" fill="none" stroke-linecap="round" opacity="0.45"/>
<path d="M356,341 L438,343" stroke="#f2f2f2" stroke-width="7" fill="none" filter="url(#bl)"/>
<path d="M355,333.4 C357,334.5 358.5,335.8 360.3,335.9 L376.8,336.6 C377.8,337 378.2,338.4 378.8,338.4 C379.8,338 380.2,334.2 380.9,334.2 C383,334.5 386,337.3 389.1,337.3 L407,339.2 C408.5,338.8 409.5,336.6 410.5,336.6 C412.5,336.8 414.5,340 416.6,340 L434.5,340.6 C436,340.6 437.5,339 438.7,338.6" stroke="#333" stroke-width="4.3" fill="none" filter="url(#bl)" stroke-linecap="round" stroke-linejoin="round"/>
<path d="M355,333.4 C357,334.5 358.5,335.8 360.3,335.9 L376.8,336.6 C377.8,337 378.2,338.4 378.8,338.4 C379.8,338 380.2,334.2 380.9,334.2 C383,334.5 386,337.3 389.1,337.3 L407,339.2 C408.5,338.8 409.5,336.6 410.5,336.6 C412.5,336.8 414.5,340 416.6,340 L434.5,340.6 C436,340.6 437.5,339 438.7,338.6" stroke="#000" stroke-width="3.0" fill="none" filter="url(#bl2)" stroke-linecap="round" stroke-linejoin="round"/>
<text transform="translate(504.2,207.5) scale(1.0,1)" x="0" y="0" font-size="12" text-anchor="start" font-weight="bold" fill="#000" stroke="#000" stroke-width="0">f</text>
<text transform="translate(547.2,212) scale(0.88,1)" x="0" y="0" font-size="13.98" text-anchor="start" font-weight="normal" fill="#1a1a1a" stroke="#1a1a1a" stroke-width="0.22" textLength="36.25" lengthAdjust="spacingAndGlyphs">ODZ1</text>
<text transform="translate(591.9,211.4) scale(0.88,1)" x="0" y="0" font-size="13.98" fill="#1a1a1a" stroke="#1a1a1a" stroke-width="0.22" textLength="50" lengthAdjust="spacingAndGlyphs">CCND<tspan font-weight="bold" stroke-width="0.45">1</tspan></text>
<rect x="531.7" y="215.2" width="111.29999999999995" height="123.30000000000001" fill="none" stroke="#2a2a2a" stroke-width="1.3"/>
<line x1="587.8" y1="215.2" x2="587.8" y2="338.5" stroke="#2a2a2a" stroke-width="1.3"/>
<line x1="531.7" y1="307.90000000000003" x2="533.8" y2="307.90000000000003" stroke="#2a2a2a" stroke-width="1"/>
<line x1="587.8" y1="307.90000000000003" x2="589.9" y2="307.90000000000003" stroke="#2a2a2a" stroke-width="1"/>
<line x1="531.7" y1="277.20000000000005" x2="533.8" y2="277.20000000000005" stroke="#2a2a2a" stroke-width="1"/>
<line x1="587.8" y1="277.20000000000005" x2="589.9" y2="277.20000000000005" stroke="#2a2a2a" stroke-width="1"/>
<line x1="531.7" y1="246.50000000000003" x2="533.8" y2="246.50000000000003" stroke="#2a2a2a" stroke-width="1"/>
<line x1="587.8" y1="246.50000000000003" x2="589.9" y2="246.50000000000003" stroke="#2a2a2a" stroke-width="1"/>
<text transform="translate(528.9,253.2) scale(0.88,1)" x="0" y="0" font-size="13.98" text-anchor="end" font-weight="normal" fill="#1a1a1a" stroke="#1a1a1a" stroke-width="0.22">6</text>
<text transform="translate(528.9,283.7) scale(0.88,1)" x="0" y="0" font-size="13.98" text-anchor="end" font-weight="normal" fill="#1a1a1a" stroke="#1a1a1a" stroke-width="0.22">4</text>
<text transform="translate(528.9,314) scale(0.88,1)" x="0" y="0" font-size="13.98" text-anchor="end" font-weight="normal" fill="#1a1a1a" stroke="#1a1a1a" stroke-width="0.22">2</text>
<text transform="translate(519.2,313.2) rotate(-90) scale(1,1.0)" x="0" y="0" font-size="12.3" fill="#1a1a1a" stroke="#1a1a1a" stroke-width="0.22" textLength="71.5" lengthAdjust="spacingAndGlyphs">mRNA levels</text>
<text transform="translate(595.8,229.3) scale(0.88,1)" x="0" y="0" font-size="13.98" text-anchor="start" font-weight="normal" fill="#1a1a1a" stroke="#1a1a1a" stroke-width="0.22" textLength="43.98" lengthAdjust="spacingAndGlyphs">GBM-1</text>
<line x1="540.15" y1="323.8" x2="540.15" y2="321.6" stroke="#2a2a2a" stroke-width="1.1"/>
<line x1="538.05" y1="322.1" x2="542.25" y2="322.1" stroke="#2a2a2a" stroke-width="1.1"/>
<rect x="536.15" y="324.55" width="8.0" height="13.949999999999989" fill="#fff" stroke="#2a2a2a" stroke-width="1.5"/>
<line x1="552.5999999999999" y1="231.4" x2="552.5999999999999" y2="225.6" stroke="#2a2a2a" stroke-width="1.1"/>
<line x1="550.4999999999999" y1="226.1" x2="554.6999999999999" y2="226.1" stroke="#2a2a2a" stroke-width="1.1"/>
<rect x="549.15" y="232.15" width="6.899999999999977" height="106.35" fill="#7f7f7f" stroke="#2a2a2a" stroke-width="1.5"/>
<line x1="565.5999999999999" y1="236.3" x2="565.5999999999999" y2="232.3" stroke="#2a2a2a" stroke-width="1.1"/>
<line x1="563.4999999999999" y1="232.8" x2="567.6999999999999" y2="232.8" stroke="#2a2a2a" stroke-width="1.1"/>
<rect x="562.05" y="237.05" width="7.100000000000023" height="101.44999999999999" fill="#7f7f7f" stroke="#2a2a2a" stroke-width="1.5"/>
<line x1="578.75" y1="299.5" x2="578.75" y2="297.6" stroke="#2a2a2a" stroke-width="1.1"/>
<line x1="576.65" y1="298.1" x2="580.85" y2="298.1" stroke="#2a2a2a" stroke-width="1.1"/>
<rect x="574.75" y="300.25" width="8.0" height="38.25" fill="#7f7f7f" stroke="#2a2a2a" stroke-width="1.5"/>
<line x1="595.4000000000001" y1="323.3" x2="595.4000000000001" y2="321.6" stroke="#2a2a2a" stroke-width="1.1"/>
<line x1="593.3000000000001" y1="322.1" x2="597.5000000000001" y2="322.1" stroke="#2a2a2a" stroke-width="1.1"/>
<rect x="591.85" y="324.05" width="7.100000000000023" height="14.449999999999989" fill="#fff" stroke="#2a2a2a" stroke-width="1.5"/>
<line x1="608.2" y1="287.1" x2="608.2" y2="283" stroke="#2a2a2a" stroke-width="1.1"/>
<line x1="606.1" y1="283.5" x2="610.3000000000001" y2="283.5" stroke="#2a2a2a" stroke-width="1.1"/>
<rect x="604.75" y="287.85" width="6.899999999999977" height="50.64999999999998" fill="#7f7f7f" stroke="#2a2a2a" stroke-width="1.5"/>
<line x1="621.0" y1="278.1" x2="621.0" y2="272" stroke="#2a2a2a" stroke-width="1.1"/>
<line x1="618.9" y1="272.5" x2="623.1" y2="272.5" stroke="#2a2a2a" stroke-width="1.1"/>
<rect x="617.45" y="278.85" width="7.099999999999909" height="59.64999999999998" fill="#7f7f7f" stroke="#2a2a2a" stroke-width="1.5"/>
<line x1="634.05" y1="313" x2="634.05" y2="312.3" stroke="#2a2a2a" stroke-width="1.1"/>
<line x1="631.9499999999999" y1="312.8" x2="636.15" y2="312.8" stroke="#2a2a2a" stroke-width="1.1"/>
<rect x="630.15" y="313.75" width="7.800000000000068" height="24.75" fill="#7f7f7f" stroke="#2a2a2a" stroke-width="1.5"/>
<path d="M539.6,316.2 V222.5 H547.8 V231" stroke="#3a3a3a" stroke-width="1.1" fill="none"/>
<path d="M595.3,315.4 V275.7 H602.6 V280.5" stroke="#3a3a3a" stroke-width="1.1" fill="none"/>
<text transform="translate(553.7,226.1) scale(0.88,1)" x="0" y="0" font-size="13.07" text-anchor="middle" font-weight="normal" fill="#2a2a2a" stroke="#2a2a2a" stroke-width="0.22" textLength="10.23" lengthAdjust="spacingAndGlyphs">**</text>
<text transform="translate(598.5,277.3) scale(0.88,1)" x="0" y="0" font-size="13.07" text-anchor="middle" font-weight="normal" fill="#2a2a2a" stroke="#2a2a2a" stroke-width="0.22" textLength="10.23" lengthAdjust="spacingAndGlyphs">**</text>
<text transform="translate(578.8,298.4) scale(0.88,1)" x="0" y="0" font-size="13.07" text-anchor="middle" font-weight="normal" fill="#2a2a2a" stroke="#2a2a2a" stroke-width="0.22" textLength="10.23" lengthAdjust="spacingAndGlyphs">**</text>
<text transform="translate(634,313.3) scale(0.88,1)" x="0" y="0" font-size="13.07" text-anchor="middle" font-weight="normal" fill="#2a2a2a" stroke="#2a2a2a" stroke-width="0.22" textLength="10.23" lengthAdjust="spacingAndGlyphs">**</text>
<line x1="538.9" y1="352.1" x2="541.9" y2="352.1" stroke="#222" stroke-width="1.2"/>
<line x1="549.85" y1="350.8" x2="555.35" y2="350.8" stroke="#222" stroke-width="1.2"/>
<line x1="552.6" y1="348.05" x2="552.6" y2="353.55" stroke="#222" stroke-width="1.2"/>
<line x1="562.75" y1="350.8" x2="568.25" y2="350.8" stroke="#222" stroke-width="1.2"/>
<line x1="565.5" y1="348.05" x2="565.5" y2="353.55" stroke="#222" stroke-width="1.2"/>
<line x1="576.45" y1="350.8" x2="581.95" y2="350.8" stroke="#222" stroke-width="1.2"/>
<line x1="579.2" y1="348.05" x2="579.2" y2="353.55" stroke="#222" stroke-width="1.2"/>
<line x1="594.2" y1="352.1" x2="597.2" y2="352.1" stroke="#222" stroke-width="1.2"/>
<line x1="605.15" y1="350.8" x2="610.65" y2="350.8" stroke="#222" stroke-width="1.2"/>
<line x1="607.9" y1="348.05" x2="607.9" y2="353.55" stroke="#222" stroke-width="1.2"/>
<line x1="618.05" y1="350.8" x2="623.55" y2="350.8" stroke="#222" stroke-width="1.2"/>
<line x1="620.8" y1="348.05" x2="620.8" y2="353.55" stroke="#222" stroke-width="1.2"/>
<line x1="631.55" y1="350.8" x2="637.05" y2="350.8" stroke="#222" stroke-width="1.2"/>
<line x1="634.3" y1="348.05" x2="634.3" y2="353.55" stroke="#222" stroke-width="1.2"/>
<line x1="538.9" y1="368.4" x2="541.9" y2="368.4" stroke="#222" stroke-width="1.2"/>
<line x1="551.1" y1="368.4" x2="554.1" y2="368.4" stroke="#222" stroke-width="1.2"/>
<line x1="562.75" y1="366.3" x2="568.25" y2="366.3" stroke="#222" stroke-width="1.2"/>
<line x1="565.5" y1="363.55" x2="565.5" y2="369.05" stroke="#222" stroke-width="1.2"/>
<line x1="577.7" y1="368.4" x2="580.7" y2="368.4" stroke="#222" stroke-width="1.2"/>
<line x1="594.2" y1="368.4" x2="597.2" y2="368.4" stroke="#222" stroke-width="1.2"/>
<line x1="606.4" y1="368.4" x2="609.4" y2="368.4" stroke="#222" stroke-width="1.2"/>
<line x1="618.05" y1="366.3" x2="623.55" y2="366.3" stroke="#222" stroke-width="1.2"/>
<line x1="620.8" y1="363.55" x2="620.8" y2="369.05" stroke="#222" stroke-width="1.2"/>
<line x1="632.8" y1="368.4" x2="635.8" y2="368.4" stroke="#222" stroke-width="1.2"/>
<line x1="538.9" y1="385.2" x2="541.9" y2="385.2" stroke="#222" stroke-width="1.2"/>
<line x1="551.1" y1="385.2" x2="554.1" y2="385.2" stroke="#222" stroke-width="1.2"/>
<line x1="564.0" y1="385.2" x2="567.0" y2="385.2" stroke="#222" stroke-width="1.2"/>
<line x1="576.45" y1="384.2" x2="581.95" y2="384.2" stroke="#222" stroke-width="1.2"/>
<line x1="579.2" y1="381.45" x2="579.2" y2="386.95" stroke="#222" stroke-width="1.2"/>
<line x1="594.2" y1="385.2" x2="597.2" y2="385.2" stroke="#222" stroke-width="1.2"/>
<line x1="606.4" y1="385.2" x2="609.4" y2="385.2" stroke="#222" stroke-width="1.2"/>
<line x1="619.3" y1="385.2" x2="622.3" y2="385.2" stroke="#222" stroke-width="1.2"/>
<line x1="631.55" y1="384.2" x2="637.05" y2="384.2" stroke="#222" stroke-width="1.2"/>
<line x1="634.3" y1="381.45" x2="634.3" y2="386.95" stroke="#222" stroke-width="1.2"/>
<text transform="translate(641.2,354.4) scale(0.88,1)" x="0" y="0" font-size="13.98" text-anchor="start" font-weight="normal" fill="#1a1a1a" stroke="#1a1a1a" stroke-width="0.22" textLength="29.32" lengthAdjust="spacingAndGlyphs">FCS</text>
<text transform="translate(639,371.6) scale(0.88,1)" x="0" y="0" font-size="13.98" text-anchor="start" font-weight="normal" fill="#1a1a1a" stroke="#1a1a1a" stroke-width="0.22" textLength="27.05" lengthAdjust="spacingAndGlyphs">TCZ</text>
<text transform="translate(641.2,387.7) scale(0.88,1)" x="0" y="0" font-size="13.98" text-anchor="start" font-weight="normal" fill="#1a1a1a" stroke="#1a1a1a" stroke-width="0.22" textLength="30.57" lengthAdjust="spacingAndGlyphs">RUX</text>
</g></svg>
</body></html>
